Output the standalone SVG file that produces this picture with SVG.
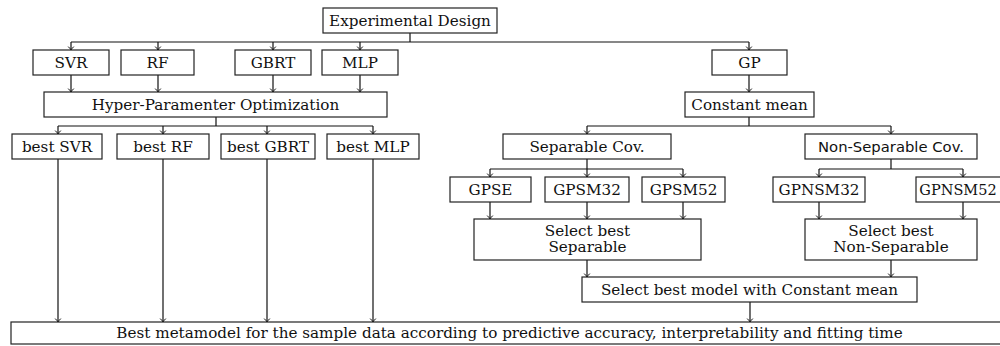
<svg xmlns="http://www.w3.org/2000/svg" width="1000" height="346" viewBox="0 0 1000 346">
<style>
  rect.b { fill: #fff; stroke: #222; stroke-width: 1.2; }
  text { font-family: "DejaVu Serif", "Liberation Serif", serif; font-size: 15.2px; fill: #111; text-anchor: middle; }
  text.sf { font-family: "DejaVu Sans", "Liberation Sans", sans-serif; font-size: 14.8px; }
  #connectors path { fill: none; stroke: #111; stroke-width: 1.2; }
  #connectors path.a { marker-end: url(#arr); }
</style>
<defs>
  <marker id="arr" markerUnits="userSpaceOnUse" markerWidth="10" markerHeight="10" viewBox="-5 -5 10 10" refX="0" refY="0" orient="auto">
    <path d="M-3.4,-2.8 Q-1.2,-0.6 0,0 Q-1.2,0.6 -3.4,2.8" fill="none" stroke="#111" stroke-width="1"/>
  </marker>
</defs>
<rect width="1000" height="346" fill="#fff"/>

<g id="connectors">
  <path d="M410,33 V42 M71,42 H749"/>
  <path class="a" d="M71,42 V50"/>
  <path class="a" d="M158,42 V50"/>
  <path class="a" d="M273,42 V50"/>
  <path class="a" d="M360,42 V50"/>
  <path class="a" d="M749,42 V50"/>
  <path class="a" d="M71,75 V92"/>
  <path class="a" d="M158,75 V92"/>
  <path class="a" d="M273,75 V92"/>
  <path class="a" d="M360,75 V92"/>
  <path class="a" d="M749,75 V92"/>
  <path d="M216,117 V126 M58,126 H373"/>
  <path class="a" d="M58,126 V134"/>
  <path class="a" d="M163,126 V134"/>
  <path class="a" d="M267,126 V134"/>
  <path class="a" d="M373,126 V134"/>
  <path class="a" d="M58,159 V322"/>
  <path class="a" d="M163,159 V322"/>
  <path class="a" d="M267,159 V322"/>
  <path class="a" d="M373,159 V322"/>
  <path d="M749,117 V126 M587,126 H891"/>
  <path class="a" d="M587,126 V134"/>
  <path class="a" d="M891,126 V134"/>
  <path d="M587,159 V169 M490,169 H683"/>
  <path class="a" d="M490,169 V177"/>
  <path class="a" d="M587,169 V177"/>
  <path class="a" d="M683,169 V177"/>
  <path d="M891,159 V169 M819,169 H963"/>
  <path class="a" d="M819,169 V177"/>
  <path class="a" d="M963,169 V177"/>
  <path class="a" d="M490,202 V219"/>
  <path class="a" d="M587,202 V219"/>
  <path class="a" d="M683,202 V219"/>
  <path class="a" d="M819,202 V219"/>
  <path class="a" d="M963,202 V219"/>
  <path class="a" d="M587,260 V277"/>
  <path class="a" d="M891,260 V277"/>
  <path class="a" d="M750,302 V322"/>
</g>

<g id="experimental-design"><rect class="b" x="323" y="8" width="174" height="25"/><text x="410" y="25.8">Experimental Design</text></g>

<g id="svr"><rect class="b" x="33" y="50" width="76" height="25"/><text x="71" y="67.8">SVR</text></g>
<g id="rf"><rect class="b" x="121" y="50" width="73" height="25"/><text x="157.5" y="67.8">RF</text></g>
<g id="gbrt"><rect class="b" x="235" y="50" width="76" height="25"/><text x="273" y="67.8">GBRT</text></g>
<g id="mlp"><rect class="b" x="322" y="50" width="76" height="25"/><text x="360" y="67.8">MLP</text></g>
<g id="gp"><rect class="b" x="712" y="50" width="75" height="25"/><text x="749.5" y="67.8">GP</text></g>

<g id="hyper"><rect class="b" x="44" y="92" width="343" height="25"/><text x="215.5" y="109.8">Hyper-Paramenter Optimization</text></g>
<g id="constant-mean"><rect class="b" x="685" y="92" width="129" height="25"/><text x="749.5" y="109.8">Constant mean</text></g>

<g id="best-svr"><rect class="b" x="12" y="134" width="90" height="25"/><text x="57" y="151.8">best SVR</text></g>
<g id="best-rf"><rect class="b" x="117" y="134" width="92" height="25"/><text x="163" y="151.8">best RF</text></g>
<g id="best-gbrt"><rect class="b" x="221" y="134" width="94" height="25"/><text x="268" y="151.8">best GBRT</text></g>
<g id="best-mlp"><rect class="b" x="327" y="134" width="92" height="25"/><text x="373" y="151.8">best MLP</text></g>

<g id="separable-cov"><rect class="b" x="503" y="134" width="168" height="25"/><text x="587" y="151.8">Separable Cov.</text></g>
<g id="non-separable-cov"><rect class="b" x="805" y="134" width="172" height="25"/><text class="sf" x="891" y="151.8">Non-Separable Cov.</text></g>

<g id="gpse"><rect class="b" x="450" y="177" width="81" height="25"/><text x="490.5" y="194.8">GPSE</text></g>
<g id="gpsm32"><rect class="b" x="545" y="177" width="84" height="25"/><text x="587" y="194.8">GPSM32</text></g>
<g id="gpsm52"><rect class="b" x="642" y="177" width="83" height="25"/><text x="683.5" y="194.8">GPSM52</text></g>
<g id="gpnsm32"><rect class="b" x="773" y="177" width="92" height="25"/><text x="819" y="194.8">GPNSM32</text></g>
<g id="gpnsm52"><rect class="b" x="916" y="177" width="94" height="25"/><text x="958" y="194.8" style="font-size:14.5px">GPNSM52</text></g>

<g id="select-separable"><rect class="b" x="474" y="219" width="227" height="41"/><text x="587.5" y="235.5">Select best</text><text x="587.5" y="251.8">Separable</text></g>
<g id="select-non-separable"><rect class="b" x="805" y="219" width="172" height="41"/><text x="891" y="235.5">Select best</text><text x="891" y="251.8">Non-Separable</text></g>

<g id="select-constant"><rect class="b" x="582" y="277" width="335" height="25"/><text x="749.5" y="294.8">Select best model with Constant mean</text></g>

<g id="final"><rect class="b" x="11" y="322" width="997" height="22"/><text x="509.5" y="338.3">Best metamodel for the sample data according to predictive accuracy, interpretability and fitting time</text></g>
</svg>
